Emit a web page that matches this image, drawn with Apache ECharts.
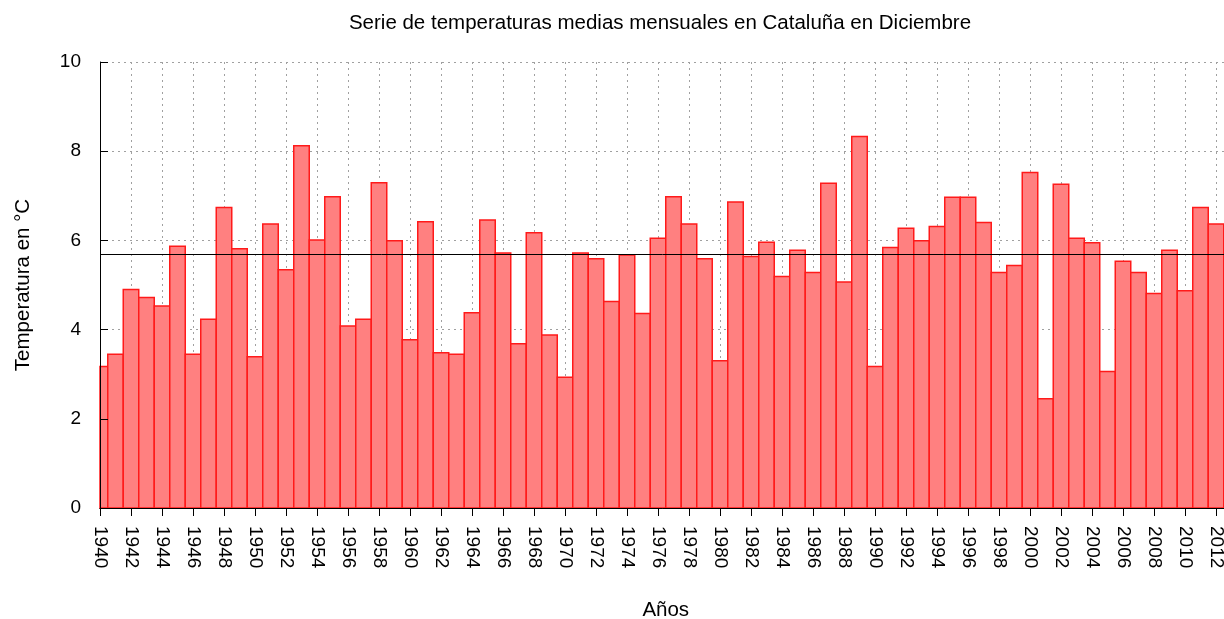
<!DOCTYPE html>
<html>
<head>
<meta charset="utf-8">
<script src="https://cdn.jsdelivr.net/npm/echarts@6/dist/echarts.min.js"></script>
<style>
    html, body { margin: 0; padding: 0; background: #fff; }
    #chart { width: 1224px; height: 619px; }
</style>
</head>
<body>
<div id="chart"></div>
<script>
var years = [1940, 1941, 1942, 1943, 1944, 1945, 1946, 1947, 1948, 1949,
    1950, 1951, 1952, 1953, 1954, 1955, 1956, 1957, 1958, 1959,
    1960, 1961, 1962, 1963, 1964, 1965, 1966, 1967, 1968, 1969,
    1970, 1971, 1972, 1973, 1974, 1975, 1976, 1977, 1978, 1979,
    1980, 1981, 1982, 1983, 1984, 1985, 1986, 1987, 1988, 1989,
    1990, 1991, 1992, 1993, 1994, 1995, 1996, 1997, 1998, 1999,
    2000, 2001, 2002, 2003, 2004, 2005, 2006, 2007, 2008, 2009,
    2010, 2011, 2012];
var temps = [3.17, 3.45, 4.90, 4.72, 4.53, 5.87, 3.45, 4.23, 6.74, 5.81,
    3.39, 6.37, 5.34, 8.12, 6.01, 6.98, 4.08, 4.23, 7.29, 5.99,
    3.77, 6.42, 3.48, 3.45, 4.38, 6.46, 5.72, 3.68, 6.17, 3.88,
    2.93, 5.72, 5.59, 4.63, 5.67, 4.36, 6.05, 6.98, 6.37, 5.59,
    3.30, 6.86, 5.64, 5.96, 5.19, 5.78, 5.28, 7.28, 5.07, 8.33,
    3.17, 5.84, 6.27, 5.99, 6.31, 6.97, 6.97, 6.40, 5.28, 5.44,
    7.52, 2.45, 7.26, 6.05, 5.95, 3.06, 5.53, 5.28, 4.81, 5.78,
    4.87, 6.74, 6.37];
var meanTemp = 5.69;

var chart = echarts.init(document.getElementById('chart'));

var barData = [];
for (var i = 0; i < years.length; i++) {
    barData.push([years[i], temps[i]]);
}

var font = 'Liberation Sans, Arial, sans-serif';
var gridLine = {
    show: true,
    lineStyle: { color: '#a0a0a0', type: [2, 4], width: 1 }
};

// one bar per year, one year wide, clipped to the plot box (1940 is cut in half)
function renderBar(params, api) {
    var year = api.value(0);
    var topLeft = api.coord([year - 0.5, api.value(1)]);
    var bottomRight = api.coord([year + 0.5, 0]);
    var rect = echarts.graphic.clipRectByRect({
        x: topLeft[0],
        y: topLeft[1],
        width: bottomRight[0] - topLeft[0],
        height: bottomRight[1] - topLeft[1]
    }, {
        x: params.coordSys.x,
        y: params.coordSys.y,
        width: params.coordSys.width,
        height: params.coordSys.height
    });
    if (!rect) return;
    return {
        type: 'rect',
        shape: rect,
        style: api.style()
    };
}

var option = {
    animation: false,
    backgroundColor: '#fff',
    title: {
        text: 'Serie de temperaturas medias mensuales en Cataluña en Diciembre',
        left: 660,
        top: 13,
        padding: 0,
        textAlign: 'center',
        textStyle: { fontFamily: font, fontSize: 20.5, fontWeight: 'normal', color: '#000' }
    },
    grid: {
        left: 100,
        top: 62,
        width: 1131.5,
        height: 446,
        outerBoundsMode: 'none',
        containLabel: false
    },
    xAxis: [
        {
            type: 'value',
            position: 'bottom',
            min: 1940,
            max: 2013,
            interval: 2,
            z: 3,
            name: 'Años',
            nameLocation: 'middle',
            nameGap: 92,
            nameTextStyle: { fontFamily: font, fontSize: 20.5, color: '#000' },
            axisLine: { show: true, lineStyle: { color: '#000', width: 1 } },
            axisTick: { show: false },
            splitLine: { show: false },
            axisLabel: {
                rotate: -90,
                margin: 18,
                showMaxLabel: false,
                fontFamily: font,
                fontSize: 19,
                color: '#000',
                formatter: function (v) { return String(v); }
            }
        },
        {
            type: 'value',
            position: 'top',
            min: 1940,
            max: 2013,
            interval: 2,
            axisLine: { show: true, lineStyle: { color: '#000', width: 1 } },
            axisTick: { show: true, inside: true, length: 8, lineStyle: { color: '#000' } },
            axisLabel: { show: false },
            splitLine: gridLine
        }
    ],
    yAxis: [
        {
            type: 'value',
            position: 'left',
            min: 0,
            max: 10,
            interval: 2,
            z: 3,
            name: 'Temperatura en °C',
            nameLocation: 'middle',
            nameGap: 66,
            nameTextStyle: { fontFamily: font, fontSize: 20.5, color: '#000' },
            axisLine: { show: true, lineStyle: { color: '#000', width: 1 } },
            axisTick: { show: true, inside: true, length: 8, lineStyle: { color: '#000' } },
            axisLabel: { margin: 19, fontFamily: font, fontSize: 19, color: '#000' },
            splitLine: { show: false }
        },
        {
            type: 'value',
            position: 'right',
            min: 0,
            max: 10,
            interval: 2,
            axisLine: { show: false },
            axisTick: { show: false },
            axisLabel: { show: false },
            splitLine: gridLine
        }
    ],
    series: [
        {
            type: 'custom',
            xAxisIndex: 0,
            yAxisIndex: 0,
            renderItem: renderBar,
            encode: { x: 0, y: 1 },
            data: barData,
            itemStyle: {
                color: '#ff8080',
                borderColor: '#ff1a1a',
                borderWidth: 1.5
            },
            markLine: {
                silent: true,
                symbol: ['none', 'none'],
                label: { show: false },
                lineStyle: { color: '#000', type: 'solid', width: 1 },
                data: [{ yAxis: meanTemp }]
            }
        }
    ]
};
chart.setOption(option);
</script>
</body>
</html>
